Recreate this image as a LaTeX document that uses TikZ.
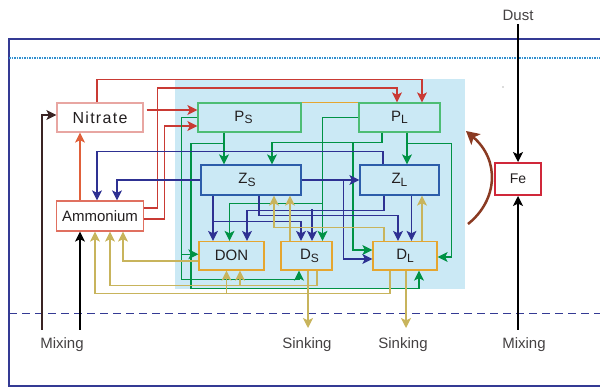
\documentclass[tikz,border=0pt]{standalone}
\usepackage{fontspec}
\setmainfont{Liberation Sans}
\usetikzlibrary{arrows.meta, calc}
\definecolor{framenavy}{HTML}{343A94}
\definecolor{dotblue}{HTML}{2F8FD0}
\definecolor{bgblue}{HTML}{CBE9F5}
\definecolor{textdark}{HTML}{231F20}
\definecolor{nitratered}{HTML}{E8A6A2}
\definecolor{ammonred}{HTML}{E07060}
\definecolor{arrowred}{HTML}{C93A34}
\definecolor{arroworange}{HTML}{E0603A}
\definecolor{ambline}{HTML}{E5A630}
\definecolor{pgreen}{HTML}{4DBD74}
\definecolor{arrowgreen}{HTML}{009245}
\definecolor{zblue}{HTML}{2C5DAA}
\definecolor{arrowblue}{HTML}{2E3192}
\definecolor{dgold}{HTML}{E5A630}
\definecolor{arrowolive}{HTML}{C8B45C}
\definecolor{fered}{HTML}{D0283A}
\definecolor{febrown}{HTML}{8A3A22}
\definecolor{mixbrown}{HTML}{3A2424}
\newcommand\lowidx[1]{\raisebox{-2.5pt}{\fontsize{12}{12}\selectfont #1}}
\tikzset{
	flowbox/.style={draw, line width=1.3pt, fill=bgblue, inner sep=0pt, text=textdark,
			font=\fontsize{15}{15}\selectfont}
}
\tikzset{
	labeltext/.style={inner sep=0pt, text=textdark!85, font=\fontsize{15}{15}\selectfont}
}
\tikzset{
	flowhead/.style={line width=1.15pt, -{Stealth[length=10pt, width=10pt, inset=2.5pt]}}
}

\begin{document}
\begin{tikzpicture}[x=1pt, y=-1pt]
\useasboundingbox (0,0) rectangle (600,387);

% layers
\draw[framenavy, line width=1.5pt] (600,39) -- (9,39) -- (9,386) -- (600,386);
\draw[dotblue, line width=1.2pt, dash pattern=on 1.5pt off 1pt] (9,58) -- (600,58);
\draw[framenavy, line width=1pt, dash pattern=on 8pt off 5pt] (9,314) -- (600,314);
\fill[bgblue] (175,79) rectangle (465,289);
\fill[black!60] (503,87) circle (0.7);

% boxes
\node[flowbox, fill=white, draw=nitratered, minimum width=86pt, minimum height=29pt] (Nitrate) at (100,117.5) {\fontsize{16}{16}\selectfont\addfontfeature{LetterSpace=8}Nitrate};
\node[flowbox, fill=white, draw=ammonred, minimum width=87pt, minimum height=30pt] (Ammonium) at (100,216) {Ammonium};
\node[flowbox, draw=pgreen, minimum width=103pt, minimum height=29pt] (Ps) at (249.5,117.5) {P\lowidx{S}\hspace*{12pt}};
\node[flowbox, draw=pgreen, minimum width=81pt, minimum height=29pt] (Pl) at (399.5,117.5) {P\lowidx{L}};
\node[flowbox, draw=zblue, minimum width=100pt, minimum height=30pt] (Zs) at (251,180) {Z\lowidx{S}\hspace*{8pt}};
\node[flowbox, draw=zblue, minimum width=79pt, minimum height=30pt] (Zl) at (399.5,180) {Z\lowidx{L}};
\node[flowbox, draw=dgold, minimum width=65pt, minimum height=28.5pt] (Don) at (231.5,255.75) {DON};
\node[flowbox, draw=dgold, minimum width=51pt, minimum height=28.5pt] (Ds) at (306.5,255.75) {\hspace*{6pt}D\lowidx{S}};
\node[flowbox, draw=dgold, minimum width=64pt, minimum height=28.5pt] (Dl) at (405,255.75) {D\lowidx{L}};
\node[flowbox, fill=white, draw=fered, line width=2pt, minimum width=46pt, minimum height=32pt, font=\fontsize{14}{14}\selectfont] (Fe) at (518,179) {Fe};

% labels
\node[labeltext] (Dust) at (518,15) {Dust};
\node[labeltext] (MixLeft) at (62,345) {Mixing};
\node[labeltext] (SinkLeft) at (307,345) {Sinking};
\node[labeltext] (SinkRight) at (403,345) {Sinking};
\node[labeltext] (MixRight) at (524,345) {Mixing};

\coordinate (mixN) at (42,330);
\coordinate (mixA) at (80,330);
\coordinate (mixF) at (518,330);
\coordinate (sinkS) at (308,328);
\coordinate (sinkL) at (406,328);

% uptake
\draw[flowhead, arrowred, shorten <=3pt] ([yshift=7.5pt]Nitrate.east) -- ([yshift=7.5pt]Ps.west);
\draw[flowhead, arrowred] ([xshift=-3pt]Nitrate.north) -- ++(0,-23) -| ([xshift=22.5pt]Pl.north);
\draw[flowhead, arrowred] ([yshift=8pt]Ammonium.east) -- ++(13,0) -- ++(0,-120) -| ([xshift=-2.5pt]Pl.north);
\draw[flowhead, arrowred] ([yshift=-3pt]Ammonium.east) -- ++(20,0) |- ([yshift=-8.5pt]Ps.west);
\draw[flowhead, arroworange] ([xshift=-20pt]Ammonium.north) -- ([xshift=-20pt]Nitrate.south);
\draw[ambline, line width=0.8pt] (Ps.north east) -- (Pl.north west);

% phytoplankton
\draw[flowhead, arrowgreen] ([xshift=-25.5pt]Ps.south) -- ([xshift=-27pt]Zs.north);
\draw[flowhead, arrowgreen] (Ps.west) -| ++(-16,162) -| ([xshift=-7.5pt]Ds.south);
\draw[flowhead, arrowgreen] ([xshift=-17pt, yshift=1.5pt]Don.west) -- ([yshift=1.5pt]Don.west);
\draw[flowhead, arrowgreen] ([xshift=-25.5pt, yshift=-11pt]Ps.south) -| ++(-33,145) -| ([xshift=14pt]Dl.south);
\draw[flowhead, arrowgreen] ([xshift=7.5pt]Pl.south) -- ([xshift=7.5pt]Zl.north);
\draw[flowhead, arrowgreen] (Pl.west) -| ([xshift=16pt]Ds.north);
\draw[flowhead, arrowgreen] ([xshift=16pt, yshift=37.5pt]Ds.north) -| ([xshift=-2pt]Don.north);
\draw[flowhead, arrowgreen] ([xshift=-17.5pt]Pl.south) -- ++(0,10) -| ([xshift=21pt]Zs.north);
\draw[flowhead, arrowgreen] ([xshift=-46.5pt, yshift=-10pt]Pl.south) |- ([yshift=5.75pt]Dl.west);
\draw[flowhead, arrowgreen] ([xshift=7.5pt, yshift=-11pt]Pl.south) -- ++(44.5,0) |- ([yshift=-1.25pt]Dl.east);

% zooplankton
\draw[flowhead, arrowblue] (Zs.west) -| ([xshift=17pt]Ammonium.north);
\draw[flowhead, arrowblue] ([xshift=-16.5pt]Zl.north) -- ++(0,-13) -| ([xshift=-3pt]Ammonium.north);
\draw[flowhead, arrowblue] (Zs.east) -- (Zl.west);
\draw[flowhead, arrowblue] ([xshift=42pt]Zs.east) |- ([yshift=-3.25pt]Dl.west);
\draw[flowhead, arrowblue] ([xshift=-38pt]Zs.south) -- ([xshift=-18.5pt]Don.north);
\draw[flowhead, arrowblue] ([xshift=-18.5pt, yshift=19.5pt]Don.north) -| ([xshift=-5.5pt]Ds.north);
\draw[flowhead, arrowblue] ([xshift=8pt]Zs.south) -- ++(0,20) -| ([xshift=-7pt]Dl.north);
\draw[flowhead, arrowblue] ([xshift=-15.5pt]Zl.south) -- ++(0,15) -| ([xshift=15.5pt]Don.north);
\draw[flowhead, arrowblue] ([xshift=5.5pt, yshift=31.5pt]Ds.north) -- ([xshift=5.5pt]Ds.north);
\draw[flowhead, arrowblue] ([xshift=12pt]Zl.south) -- ([xshift=6.5pt]Dl.north);

% detritus
\draw[flowhead, arrowolive] ([yshift=-5.25pt]Don.west) -| ([xshift=23pt]Ammonium.south);
\draw[flowhead, arrowolive] ([xshift=10.5pt]Ds.south) -- ++(0,15) -| ([xshift=10pt]Ammonium.south);
\draw[flowhead, arrowolive] ([xshift=8.5pt, yshift=-15pt]Don.south) -- ([xshift=8.5pt]Don.south);
\draw[flowhead, arrowolive] ([xshift=-15pt]Dl.south) -- ++(0,23) -| ([xshift=-5pt]Ammonium.south);
\draw[flowhead, arrowolive] ([xshift=-5pt, yshift=-23pt]Don.south) -- ([xshift=-5pt]Don.south);
\draw[flowhead, arrowolive] ([xshift=-16.5pt]Ds.north) -- ([xshift=39pt]Zs.south);
\draw[flowhead, arrowolive] ([xshift=-21pt]Dl.north) -- ++(0,-13.5) -| ([xshift=23pt]Zs.south);
\draw[flowhead, arrowolive] ([xshift=17pt]Dl.north) -- ([xshift=22.5pt]Zl.south);
\draw[flowhead, arrowolive] ([xshift=1.5pt]Ds.south) -- (sinkS);
\draw[flowhead, arrowolive] ([xshift=1pt]Dl.south) -- (sinkL);

% mixing and dust
\draw[flowhead, mixbrown] (mixN) |- ([yshift=2.5pt]Nitrate.west);
\draw[flowhead, black] (mixA) -- ([xshift=-20pt]Ammonium.south);
\draw[flowhead, black] ([yshift=-4pt]Dust.south) -- (Fe.north);
\draw[flowhead, black] (mixF) -- (Fe.south);
\draw[febrown, line width=2.5pt, -{Stealth[length=13pt, width=14pt, inset=3pt]}] (468,224) .. controls (498,200) and (500,160) .. (466,131);

\end{tikzpicture}
\end{document}
